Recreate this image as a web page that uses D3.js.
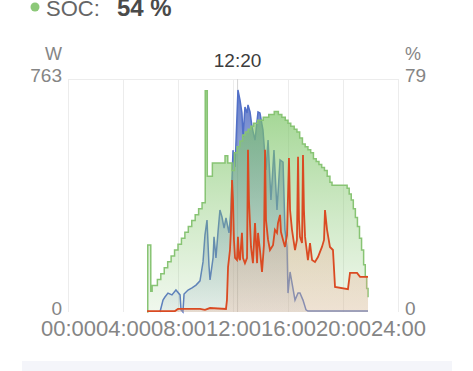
<!DOCTYPE html>
<html><head><meta charset="utf-8">
<script src="https://cdn.jsdelivr.net/npm/d3@7"></script>
<style>
html,body{margin:0;padding:0;background:#fff;}
svg{display:block;font-family:"Liberation Sans",Arial,Helvetica,sans-serif;}
</style></head>
<body><svg id="c" width="473" height="371"></svg>
<script>
// ---- data ----
const xTicks = [0, 4, 8, 12, 16, 20, 24];
const xTickLabels = ["00:00", "04:00", "08:00", "12:00", "16:00", "20:00", "24:00"];
const wMax = 763, pctMax = 79;
const cursorHour = 12 + 20/60, cursorLabel = "12:20";
const socLabel = "SOC:", socValue = "54 %";

// SOC (%) [hour, value]
const soc = [
 [5.75,0],[5.8,22.7],[6.02,7],[6.12,9],[6.25,9],[6.5,11],[6.75,13],[7.0,15],[7.25,17],[7.5,19],[7.75,21],
 [8.0,23],[8.25,25],[8.5,27],[8.75,29],[9.0,31],[9.25,33],[9.5,35],[9.75,37],[9.98,75],[10.13,46],
 [10.5,50.5],[11.42,53],[11.62,50.5],[11.93,48],[12.1,54],[12.3,56],[12.5,58],[12.7,60],[12.9,61],
 [13.1,62],[13.3,63],[13.5,64],[13.8,65],[14.2,66],[14.6,67],[15.0,68],[15.3,67],[15.55,66],[15.8,65],
 [16.0,64],[16.2,63],[16.45,62],[16.65,61],[16.85,59],[17.05,57],[17.25,56],[17.45,55],[17.65,54],
 [17.85,52],[18.05,51],[18.25,50],[18.45,49],[18.65,48],[18.85,46],[19.05,44],[19.2,43],[20.3,42],
 [20.45,40],[20.6,38],[20.75,35],[20.9,32],[21.05,29],[21.2,25],[21.35,21],[21.5,16],[21.62,12],
 [21.72,8],[21.82,5]
];
// PV power (W) [hour, value]
const pv = [
 [6.69,0],[6.91,39],[7.05,49],[7.27,62],[7.56,56],[7.85,72],[8.15,56],[8.22,7],[8.36,0],[8.44,59],
 [8.73,72],[9.02,79],[9.31,88],[9.6,102],[9.82,164],[9.96,252],[10.11,301],[10.25,154],[10.33,105],
 [10.55,177],[10.62,246],[10.76,177],[10.91,262],[11.05,334],[11.2,311],[11.35,275],[11.49,308],
 [11.71,259],[11.85,334],[12.0,530],[12.15,475],[12.36,727],[12.51,694],[12.65,652],[12.73,573],
 [12.87,671],[13.02,652],[13.09,678],[13.24,655],[13.38,606],[13.6,563],[13.82,655],[13.96,652],
 [14.18,596],[14.4,465],[14.55,563],[14.76,367],[14.98,530],[15.2,334],[15.42,498],[15.64,491],
 [15.78,269],[15.93,213],[16.0,62],[16.15,131],[16.29,95],[16.51,39],[16.73,62],[16.87,62],
 [17.09,39],[17.31,7],[17.45,3],[21.82,3]
];
// Load (W) [hour, value]
const load = [
 [5.75,3],[7.78,3],[8.0,10],[9.6,10],[9.96,7],[10.33,13],[11.49,10],[11.56,39],[11.64,147],[11.78,203],
 [11.85,269],[11.93,432],[12.0,367],[12.07,236],[12.15,177],[12.29,170],[12.36,246],[12.44,177],
 [12.51,170],[12.65,259],[12.73,177],[12.87,160],[13.02,177],[13.09,531],[13.16,367],[13.31,213],
 [13.45,160],[13.6,291],[13.75,160],[13.82,259],[13.96,203],[14.11,131],[14.25,219],[14.33,531],
 [14.4,301],[14.55,236],[14.69,203],[14.91,219],[15.05,269],[15.2,259],[15.27,291],[15.42,318],
 [15.49,262],[15.64,236],[15.78,213],[15.93,252],[16.07,504],[16.15,334],[16.29,269],[16.51,203],
 [16.65,236],[16.73,508],[16.8,301],[16.87,246],[17.02,226],[17.09,514],[17.16,334],[17.24,246],
 [17.45,170],[17.6,226],[17.75,170],[17.96,164],[18.18,180],[18.47,213],[18.62,236],[18.69,334],
 [18.84,269],[19.05,213],[19.27,203],[19.42,82],[20.36,75],[20.51,128],[21.02,128],[21.24,115],[21.82,115]
];

// ---- chart ----
const svg = d3.select("#c");
const L = 68, R = 398, T = 79, B = 312;
const x = d3.scaleLinear().domain([0, 24]).range([L, R]);
const yW = d3.scaleLinear().domain([0, wMax]).range([B, T]);
const yP = d3.scaleLinear().domain([0, pctMax]).range([B, T]);

const defs = svg.append("defs");
function grad(id, c1, o1, c2, o2) {
  const g = defs.append("linearGradient").attr("id", id)
    .attr("gradientUnits", "userSpaceOnUse").attr("x1", 0).attr("y1", T).attr("x2", 0).attr("y2", B);
  g.append("stop").attr("offset", 0).attr("stop-color", c1).attr("stop-opacity", o1);
  g.append("stop").attr("offset", 1).attr("stop-color", c2).attr("stop-opacity", o2);
}
grad("gG", "rgb(120,196,98)", 0.78, "rgb(150,205,130)", 0.14);
grad("gB", "rgb(72,100,195)", 0.9, "rgb(110,140,190)", 0.1);
grad("gR", "rgb(230,140,110)", 0.35, "rgb(235,175,150)", 0.3);

// header
svg.append("circle").attr("cx", 35).attr("cy", 7).attr("r", 4.5).attr("fill", "#8cc878");
svg.append("text").attr("x", 46).attr("y", 16).attr("font-size", 22).attr("fill", "#666").text(socLabel);
svg.append("text").attr("x", 117).attr("y", 16).attr("font-size", 24).attr("font-weight", "bold").attr("fill", "#4a4a4a").text(socValue);

// grid
const grid = svg.append("g").attr("stroke", "#ececec").attr("stroke-width", 1);
xTicks.forEach(t => grid.append("line").attr("x1", x(t) + 0.5).attr("x2", x(t) + 0.5).attr("y1", T).attr("y2", B));
grid.append("line").attr("x1", L).attr("x2", R).attr("y1", T + 0.5).attr("y2", T + 0.5);

// cursor line
svg.append("line").attr("x1", x(cursorHour)).attr("x2", x(cursorHour)).attr("y1", T).attr("y2", B)
  .attr("stroke", "#d4d4d4").attr("stroke-width", 1);

// blue
const areaW = d3.area().x(d => x(d[0])).y0(B).y1(d => yW(d[1]));
const lineW = d3.line().x(d => x(d[0])).y(d => yW(d[1]));
svg.append("path").attr("d", areaW(pv)).attr("fill", "url(#gB)");
svg.append("path").attr("d", lineW(pv)).attr("fill", "none").attr("stroke", "#5270c8").attr("stroke-width", 1.5);

// green
const areaP = d3.area().curve(d3.curveStepAfter).x(d => x(d[0])).y0(B).y1(d => yP(d[1]));
const lineP = d3.line().curve(d3.curveStepAfter).x(d => x(d[0])).y(d => yP(d[1]));
svg.append("path").attr("d", areaP(soc)).attr("fill", "url(#gG)");
svg.append("path").attr("d", lineP(soc)).attr("fill", "none").attr("stroke", "#88c474").attr("stroke-width", 1.5);

// red
svg.append("path").attr("d", areaW(load)).attr("fill", "url(#gR)");
svg.append("path").attr("d", lineW(load)).attr("fill", "none").attr("stroke", "#da4a22").attr("stroke-width", 1.8);

// axes
const axX = d3.axisBottom(x).tickValues(xTicks).tickFormat((d, i) => xTickLabels[i]).tickSize(0).tickPadding(8);
const gx = svg.append("g").attr("transform", `translate(0,${B})`).call(axX);
gx.select(".domain").remove();
gx.selectAll("text").attr("font-size", 22).attr("fill", "#858585").attr("font-family", null);

const axL = d3.axisLeft(yW).tickValues([0, wMax]).tickSize(0).tickPadding(6);
const gl = svg.append("g").attr("transform", `translate(${L},0)`).call(axL);
gl.select(".domain").remove();
gl.selectAll("text").attr("font-size", 19).attr("fill", "#858585").attr("font-family", null).attr("dy", "0.12em");

const axR = d3.axisRight(yP).tickValues([0, pctMax]).tickSize(0).tickPadding(7);
const gr = svg.append("g").attr("transform", `translate(${R},0)`).call(axR);
gr.select(".domain").remove();
gr.selectAll("text").attr("font-size", 19).attr("fill", "#858585").attr("font-family", null).attr("dy", "0.12em");

svg.append("text").attr("x", 62).attr("y", 60).attr("text-anchor", "end").attr("font-size", 18).attr("fill", "#858585").text("W");
svg.append("text").attr("x", 405).attr("y", 60).attr("font-size", 18).attr("fill", "#858585").text("%");
svg.append("text").attr("x", x(cursorHour)).attr("y", 67).attr("text-anchor", "middle").attr("font-size", 19)
  .attr("fill", "#3c3c3c").text(cursorLabel);

// bottom strip
svg.append("rect").attr("x", 22).attr("y", 361).attr("width", 430).attr("height", 10).attr("fill", "#f4f5fa");
</script></body></html>
